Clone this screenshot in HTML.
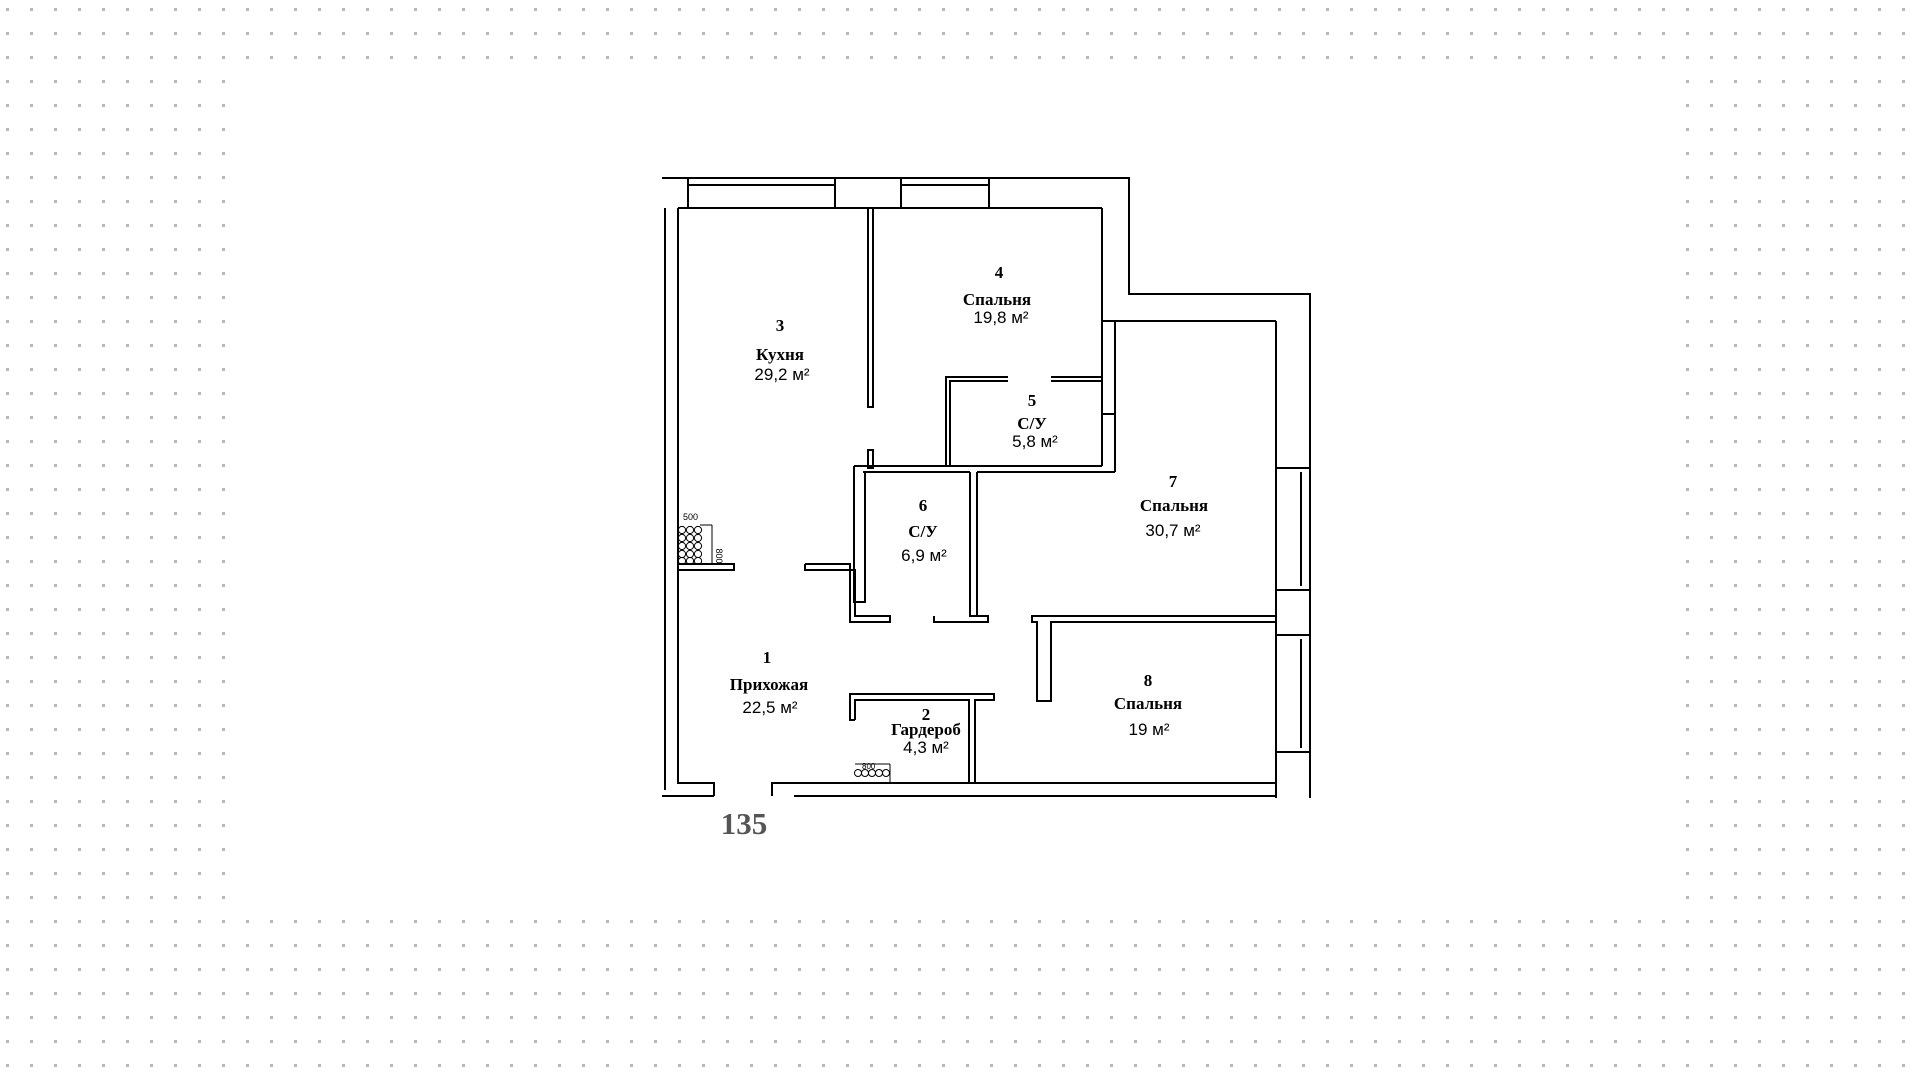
<!DOCTYPE html>
<html><head><meta charset="utf-8"><style>
html,body{margin:0;padding:0;width:1920px;height:1078px;overflow:hidden;background:#fff}
svg{position:absolute;left:0;top:0}
.l{font-family:"Liberation Serif",serif;font-weight:bold;font-size:17px;fill:#000;text-anchor:middle}
.a{font-family:"Liberation Sans",sans-serif;font-size:17px;fill:#000;text-anchor:middle}
</style></head><body>
<svg width="1920" height="1078" viewBox="0 0 1920 1078">
<defs><pattern id="d" x="6" y="8" width="24" height="24" patternUnits="userSpaceOnUse"><rect x="0" y="0" width="3" height="3" fill="#b8b8b8"/></pattern></defs>
<rect width="1920" height="1078" fill="url(#d)"/>
<rect x="238" y="66" width="1448" height="840" fill="#fff"/>
<g fill="none" stroke="#000" stroke-width="2">
<!-- outer top -->
<polyline points="662,178 1129,178 1129,294 1310,294 1310,798"/>
<rect x="688" y="178" width="147" height="30"/><line x1="688" y1="185" x2="835" y2="185"/>
<rect x="901" y="178" width="88" height="30"/><line x1="901" y1="185" x2="989" y2="185"/>
<line x1="678" y1="208" x2="1102" y2="208"/>
<!-- left walls -->
<line x1="665" y1="208" x2="665" y2="790"/>
<polyline points="678,208 678,783 714,783 714,796"/>
<line x1="662" y1="796" x2="714" y2="796"/>
<polyline points="772,796 772,783 1276,783"/>
<line x1="794" y1="796" x2="1276" y2="796"/>
<!-- right -->
<line x1="1276" y1="321" x2="1276" y2="798"/>
<rect x="1276" y="468" width="34" height="122"/><line x1="1301" y1="472" x2="1301" y2="586"/>
<rect x="1276" y="635" width="34" height="117"/><line x1="1301" y1="639" x2="1301" y2="748"/>
<line x1="1102" y1="321" x2="1276" y2="321"/>
<line x1="1102" y1="208" x2="1102" y2="466"/>
<line x1="1115" y1="321" x2="1115" y2="472"/>
<line x1="1102" y1="414" x2="1115" y2="414"/>
<!-- room 5 -->
<polyline points="1008,377 946,377 946,466"/>
<polyline points="1008,381 950,381 950,466"/>
<line x1="1051" y1="377" x2="1102" y2="377"/>
<line x1="1051" y1="381" x2="1102" y2="381"/>
<line x1="854" y1="466" x2="1102" y2="466"/>
<line x1="863" y1="472" x2="970" y2="472"/>
<line x1="977" y1="472" x2="1115" y2="472"/>
<!-- kitchen partition -->
<rect x="868" y="208" width="5" height="199"/>
<rect x="868" y="450" width="5" height="18"/>
<!-- room 6 -->
<polyline points="854,466 854,602 865,602 865,472"/>
<polyline points="970,472 970,616 988,616 988,622 934,622 934,616"/>
<polyline points="977,472 977,616"/>
<polyline points="805,564 850,564 850,622 890,622 890,616 855,616 855,570 805,570 805,564"/>
<!-- kitchen shelf -->
<rect x="678" y="564" width="56" height="6"/>
<!-- 7/8 divider -->
<polyline points="1276,616 1032,616 1032,622 1037,622 1037,701 1051,701 1051,622 1276,622"/>
<!-- wardrobe -->
<polyline points="855,720 850,720 850,694 994,694 994,700 975,700 975,783 969,783 969,700 855,700 855,720"/>
</g>
<!-- fixtures -->
<g fill="none" stroke="#000" stroke-width="1">
<g>
<circle cx="682" cy="530" r="3.6"/><circle cx="690" cy="530" r="3.6"/><circle cx="698" cy="530" r="3.6"/>
<circle cx="682" cy="538" r="3.6"/><circle cx="690" cy="538" r="3.6"/><circle cx="698" cy="538" r="3.6"/>
<circle cx="682" cy="546" r="3.6"/><circle cx="690" cy="546" r="3.6"/><circle cx="698" cy="546" r="3.6"/>
<circle cx="682" cy="554" r="3.6"/><circle cx="690" cy="554" r="3.6"/><circle cx="698" cy="554" r="3.6"/>
<circle cx="682" cy="561" r="3.6"/><circle cx="690" cy="561" r="3.6"/><circle cx="698" cy="561" r="3.6"/>
</g>
<line x1="700" y1="525" x2="712" y2="525"/><line x1="712" y1="525" x2="712" y2="564"/>
<line x1="703" y1="525" x2="712" y2="525"/>
<g><circle cx="858" cy="773" r="3.5"/><circle cx="865" cy="773" r="3.5"/><circle cx="872" cy="773" r="3.5"/><circle cx="879" cy="773" r="3.5"/><circle cx="886" cy="773" r="3.5"/></g>
<line x1="855" y1="764" x2="890" y2="764"/><line x1="890" y1="764" x2="890" y2="783"/>
</g>
<text x="683" y="520" font-family="Liberation Sans,sans-serif" font-size="9">500</text>
<text transform="translate(716,556) rotate(90)" font-family="Liberation Sans,sans-serif" font-size="9" text-anchor="middle">800</text>
<text x="862" y="769" font-family="Liberation Sans,sans-serif" font-size="8">800</text>
<!-- labels -->
<text class="l" x="999" y="278">4</text>
<text class="l" x="997" y="305">Спальня</text>
<text class="a" x="1001" y="323">19,8 м²</text>
<text class="l" x="780" y="331">3</text>
<text class="l" x="780" y="360">Кухня</text>
<text class="a" x="782" y="380">29,2 м²</text>
<text class="l" x="1032" y="406">5</text>
<text class="l" x="1032" y="429">С/У</text>
<text class="a" x="1035" y="447">5,8 м²</text>
<text class="l" x="1173" y="487">7</text>
<text class="l" x="1174" y="511">Спальня</text>
<text class="a" x="1173" y="536">30,7 м²</text>
<text class="l" x="923" y="511">6</text>
<text class="l" x="923" y="537">С/У</text>
<text class="a" x="924" y="561">6,9 м²</text>
<text class="l" x="767" y="663">1</text>
<text class="l" x="769" y="690">Прихожая</text>
<text class="a" x="770" y="713">22,5 м²</text>
<text class="l" x="1148" y="686">8</text>
<text class="l" x="1148" y="709">Спальня</text>
<text class="a" x="1149" y="735">19 м²</text>
<text class="l" x="926" y="720">2</text>
<text class="l" x="926" y="735">Гардероб</text>
<text class="a" x="926" y="753">4,3 м²</text>
<text x="744" y="834" font-family="Liberation Serif,serif" font-weight="bold" font-size="31" fill="#555" text-anchor="middle">135</text>
</svg>
</body></html>
